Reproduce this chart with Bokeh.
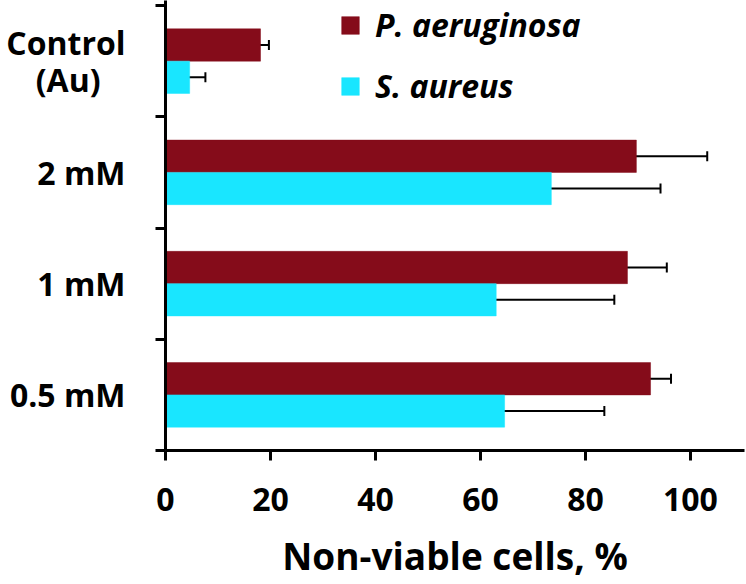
from bokeh.plotting import figure
from bokeh.models import (ColumnDataSource, FixedTicker, Whisker, TeeHead, Legend, LegendItem, Range1d)
from bokeh.embed import file_html
from bokeh.resources import INLINE

categories = ["0.5 mM", "1 mM", "2 mM", "Control\n(Au)\u00a0\u00a0\u00a0"]
p_aeruginosa = [92.4, 88.0, 89.7, 18.1]
p_aeruginosa_err = [3.9, 7.5, 13.5, 1.6]
s_aureus = [64.6, 63.0, 73.5, 4.6]
s_aureus_err = [19.0, 22.5, 20.8, 3.0]
x_ticks = [0, 20, 40, 60, 80, 100]

FONT = "Open Sans"
P_COLOR = "#850C1A"
S_COLOR = "#19E6FF"
BAR_H = 0.29

n = len(categories)
centers = [i + 0.5 for i in range(n)]
src_p = ColumnDataSource(dict(
    y=[c + BAR_H / 2 for c in centers], v=p_aeruginosa,
    lo=[v - e for v, e in zip(p_aeruginosa, p_aeruginosa_err)],
    hi=[v + e for v, e in zip(p_aeruginosa, p_aeruginosa_err)]))
src_s = ColumnDataSource(dict(
    y=[c - BAR_H / 2 for c in centers], v=s_aureus,
    lo=[v - e for v, e in zip(s_aureus, s_aureus_err)],
    hi=[v + e for v, e in zip(s_aureus, s_aureus_err)]))

p = figure(width=746, height=584, output_backend="svg", toolbar_location=None,
           x_range=Range1d(0, 110.3), y_range=Range1d(0, n + 0.045),
           min_border_left=165, min_border_right=2, min_border_top=0, min_border_bottom=134)
p.outline_line_color = None
p.xgrid.visible = False
p.ygrid.visible = False
p.background_fill_color = "white"

r_p = p.hbar(y="y", right="v", left=0, height=BAR_H, source=src_p,
             fill_color=P_COLOR, line_color=P_COLOR, line_width=0.5)
r_s = p.hbar(y="y", right="v", left=0, height=BAR_H, source=src_s,
             fill_color=S_COLOR, line_color=S_COLOR, line_width=0.5)

for src in (src_p, src_s):
    w = Whisker(base="y", lower="lo", upper="hi", dimension="width", source=src,
                line_color="black", line_width=2,
                lower_head=TeeHead(size=10, line_width=2, line_color="black"),
                upper_head=TeeHead(size=10, line_width=2, line_color="black"))
    p.add_layout(w)

# y axis
ya = p.yaxis[0]
ya.ticker = FixedTicker(ticks=centers, minor_ticks=list(range(n + 1)))
ya.major_label_overrides = {c: lab for c, lab in zip(centers, categories)}
ya.major_tick_out = 0
ya.major_tick_in = 0
ya.minor_tick_out = 10
ya.minor_tick_in = 0
ya.minor_tick_line_width = 3
ya.minor_tick_line_color = "black"
ya.axis_line_width = 3
ya.axis_line_color = "black"
ya.major_label_text_font = FONT
ya.major_label_text_font_style = "bold"
ya.major_label_text_font_size = "32px"
ya.major_label_text_color = "black"
ya.major_label_text_line_height = 0.85
ya.major_label_standoff = 30

# x axis
xa = p.xaxis[0]
xa.ticker = FixedTicker(ticks=x_ticks)
xa.major_tick_out = 10
xa.major_tick_in = 0
xa.major_tick_line_width = 3
xa.minor_tick_line_color = None
xa.axis_line_width = 3
xa.major_label_text_font = FONT
xa.major_label_text_font_style = "bold"
xa.major_label_text_font_size = "32px"
xa.major_label_text_color = "black"
xa.major_label_standoff = 27
xa.axis_label = "Non-viable cells, %"
xa.axis_label_text_font = FONT
xa.axis_label_text_font_style = "bold"
xa.axis_label_text_font_size = "37px"
xa.axis_label_text_color = "black"
xa.axis_label_standoff = 16

legend = Legend(items=[LegendItem(label="P. aeruginosa", renderers=[r_p]),
                       LegendItem(label="S. aureus", renderers=[r_s])],
                location=(174, 343), orientation="vertical",
                glyph_width=22, glyph_height=22, label_height=22, spacing=18,
                padding=0, margin=0, label_standoff=14,
                label_text_font=FONT, label_text_font_style="bold italic",
                label_text_font_size="32px", label_text_color="black",
                border_line_color=None, background_fill_alpha=0)
p.add_layout(legend)

open("out.html", "w").write(file_html(p, INLINE))
